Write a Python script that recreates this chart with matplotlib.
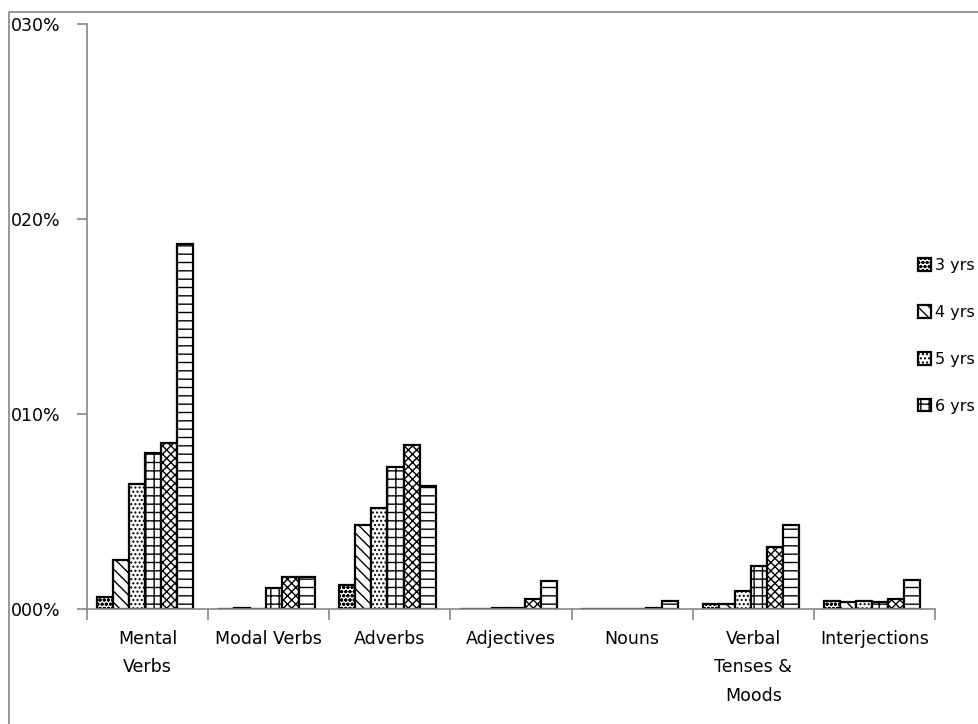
import matplotlib
matplotlib.use("Agg")
import matplotlib.pyplot as plt
from matplotlib.patches import Rectangle
import numpy as np

categories = ["Mental\nVerbs", "Modal Verbs", "Adverbs", "Adjectives", "Nouns",
              "Verbal\nTenses &\nMoods", "Interjections"]
series = ["3 yrs", "4 yrs", "5 yrs", "6 yrs", "7 yrs", "8 yrs"]

yrs3 = [0.00062, 0.0, 0.00124, 0.0, 0.0, 0.00025, 0.0004]
yrs4 = [0.0025, 0.00003, 0.0043, 0.0, 0.0, 0.00025, 0.00037]
yrs5 = [0.0064, 0.0, 0.0052, 0.00003, 0.0, 0.0009, 0.0004]
yrs6 = [0.0080, 0.00108, 0.0073, 0.00003, 0.0, 0.0022, 0.00035]
yrs7 = [0.0085, 0.00164, 0.0084, 0.0005, 0.00003, 0.0032, 0.0005]
yrs8 = [0.0187, 0.00164, 0.0063, 0.00144, 0.0004, 0.0043, 0.0015]
values = [yrs3, yrs4, yrs5, yrs6, yrs7, yrs8]

hatches = ["oooo", "\\\\\\", "....", "++", "xxxx", "--"]
ytick_vals = [0.0, 0.01, 0.02, 0.03]
ytick_labels = ["000%", "010%", "020%", "030%"]

plt.rcParams["hatch.linewidth"] = 1.0
plt.rcParams["font.family"] = ["DejaVu Sans"]

fig = plt.figure(figsize=(9.79, 7.24), dpi=100)
ax = fig.add_axes([87 / 979, 1 - 609 / 724, (935 - 87) / 979, (609 - 24) / 724])

# outer chart border
fig.patches.append(Rectangle((9 / 979, -0.05), 1.2, 1 - 12 / 724 + 0.05,
                             transform=fig.transFigure, fill=False,
                             edgecolor="#868686", linewidth=1.2))

x = np.arange(len(categories)) + 0.48
w = 0.133
bars = []
for i, vals in enumerate(values):
    b = ax.bar(x + (i - 2.5) * w, vals, width=w, color="white", edgecolor="black",
               linewidth=1.6, hatch=hatches[i], label=series[i])
    bars.append(b)

ax.set_xlim(0, len(categories))
ax.set_ylim(0, 0.03)
ax.set_yticks(ytick_vals)
ax.set_yticklabels(ytick_labels, fontsize=12.5)
ax.set_xticks(np.arange(len(categories) + 1))
ax.set_xticklabels([])
ax.set_xticks(np.arange(len(categories)) + 0.5, minor=True)
ax.set_xticklabels(categories, minor=True, fontsize=12.5, linespacing=1.75,
                   va="top")
ax.tick_params(axis="x", which="minor", length=0, pad=15)
ax.tick_params(axis="x", which="major", length=8, color="#868686", width=1.2)
ax.tick_params(axis="y", length=7, color="#868686", width=1.2, pad=12)

for s in ["top", "right"]:
    ax.spines[s].set_visible(False)
for s in ["left", "bottom"]:
    ax.spines[s].set_color("#868686")
    ax.spines[s].set_linewidth(1.2)

fig.legend(handles=bars[:4], labels=series[:4], loc="center left",
           bbox_to_anchor=(918 / 979, 1 - 336 / 724), frameon=False,
           borderpad=0, borderaxespad=0,
           fontsize=11.5, handlelength=0.8, handleheight=0.8,
           handletextpad=0.25, labelspacing=2.0)

fig.savefig("out.png", dpi=100)
